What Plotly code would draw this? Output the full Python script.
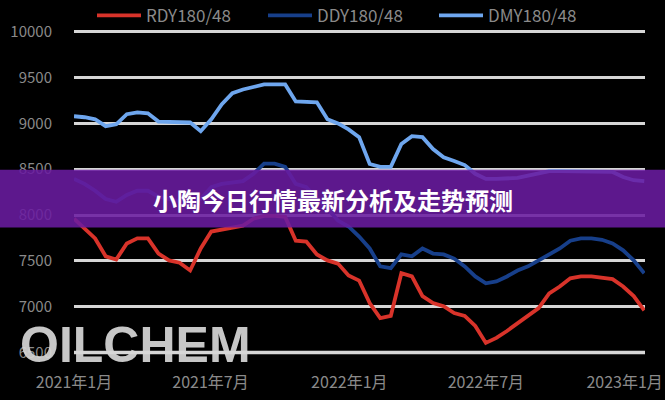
import pandas as pd
import plotly.graph_objects as go

dates = pd.date_range("2021-01-01", periods=55, freq="14D")

series_names = ["RDY180/48", "DDY180/48", "DMY180/48"]
series_colors = ["#d8332a", "#173f8a", "#6ea6ee"]

red_vals = [7960, 7850, 7745, 7550, 7515, 7690, 7745, 7745, 7580, 7505,
            7480, 7395, 7635, 7820, 7840, 7860, 7885, 7960, 7990, 7990,
            7980, 7720, 7710, 7570, 7505, 7470, 7340, 7285, 7040, 6875,
            6900, 7365, 7330, 7115, 7040, 7005, 6930, 6900, 6790, 6605,
            6660, 6735, 6820, 6900, 6985, 7145, 7220, 7310, 7330, 7330,
            7320, 7300, 7220, 7115, 6960]

dark_vals = [8395, 8340, 8265, 8175, 8145, 8220, 8265, 8265, 8200, 8175,
             8155, 8125, 8175, 8305, 8340, 8360, 8370, 8450, 8560, 8560,
             8525, 8340, 8305, 8175, 8070, 7940, 7875, 7765, 7635, 7440,
             7420, 7570, 7550, 7635, 7580, 7570, 7525, 7440, 7330, 7255,
             7275, 7330, 7395, 7440, 7505, 7580, 7635, 7720, 7745, 7745,
             7730, 7690, 7615, 7505, 7365]

light_vals = [9078, 9067, 9045, 8970, 8990, 9100, 9120, 9110, 9020, 9020,
              9020, 9010, 8915, 9045, 9210, 9330, 9370, 9400, 9425, 9425,
              9425, 9240, 9240, 9230, 9045, 9000, 8935, 8850, 8557, 8525,
              8525, 8775, 8860, 8850, 8720, 8630, 8590, 8545, 8450, 8395,
              8395, 8395, 8405, 8430, 8450, 8480, 8480, 8480, 8480, 8480,
              8480, 8470, 8415, 8380, 8370]

tick_dates = ["2021-01-01", "2021-07-01", "2022-01-01", "2022-07-01", "2023-01-01"]
tick_text = ["2021年1月", "2021年7月", "2022年1月", "2022年7月", "2023年1月"]
y_ticks = [6500, 7000, 7500, 8000, 8500, 9000, 9500, 10000]
y_text = [str(v) for v in y_ticks]

title_text = "小陶今日行情最新分析及走势预测"
watermark = "OILCHEM"

fig = go.Figure()
for name, color, vals in zip(series_names, series_colors, [red_vals, dark_vals, light_vals]):
    fig.add_trace(go.Scatter(x=dates, y=vals, mode="lines", name=name,
                             line=dict(color=color, width=3.8)))

L, R, T, B = 74, 20, 29.25, 41.5
W, H = 665, 400
pw = W - L - R
ph = H - T - B

def px_x(x):
    return (x - L) / pw

def px_y(y):
    return (H - B - y) / ph

fig.update_layout(
    width=W, height=H,
    margin=dict(l=L, r=R, t=T, b=B, autoexpand=False),
    paper_bgcolor="black", plot_bgcolor="black",
    font=dict(family="Noto Sans CJK SC, Noto Sans, sans-serif", color="#8a8a8a", size=13),
    showlegend=True,
    legend=dict(orientation="h", x=px_x(92), xanchor="left", y=px_y(16), yanchor="middle",
                font=dict(size=17, color="#8a8a8a"), bgcolor="rgba(0,0,0,0)",
                itemwidth=44, entrywidth=112, entrywidthmode="pixels", tracegroupgap=0),
    xaxis=dict(type="date", range=["2021-01-01", "2023-01-28"],
               tickvals=tick_dates, ticktext=tick_text, showgrid=False,
               zeroline=False, showline=False, ticks="", ticklabelstandoff=13,
               tickfont=dict(size=16, color="#8a8a8a")),
    yaxis=dict(range=[6440, 10030], tickvals=y_ticks, ticktext=y_text, showgrid=True,
               gridcolor="#d6d6d6", gridwidth=2.5, zeroline=False,
               ticks="", ticklabelstandoff=21,
               tickfont=dict(size=15, color="#8a8a8a")),
    shapes=[
        dict(type="line", xref="paper", yref="y", x0=0, x1=1,
             y0=y_ticks[0], y1=y_ticks[0], line=dict(color="#dcdcdc", width=3.5),
             layer="below"),
        dict(type="rect", xref="paper", yref="paper",
             x0=px_x(0), x1=px_x(W), y0=px_y(228), y1=px_y(170),
             fillcolor="rgba(106,27,160,0.88)", line=dict(width=0), layer="above"),
    ],
    annotations=[
        dict(text="<b>" + title_text + "</b>", xref="paper", yref="paper",
             x=px_x(333), y=px_y(200), xanchor="center", yanchor="middle", showarrow=False,
             font=dict(size=24, color="white", family="Noto Sans CJK SC")),
        dict(text="<b>" + watermark + "</b>", xref="paper", yref="paper",
             x=px_x(135), y=px_y(345), xanchor="center", yanchor="middle", showarrow=False,
             font=dict(size=50, color="rgba(215,215,215,0.92)", family="Liberation Sans")),
    ],
)

fig.write_html("out.html", config={"displayModeBar": False},
               post_script="document.body.style.margin='0px';document.body.style.overflow='hidden';")
